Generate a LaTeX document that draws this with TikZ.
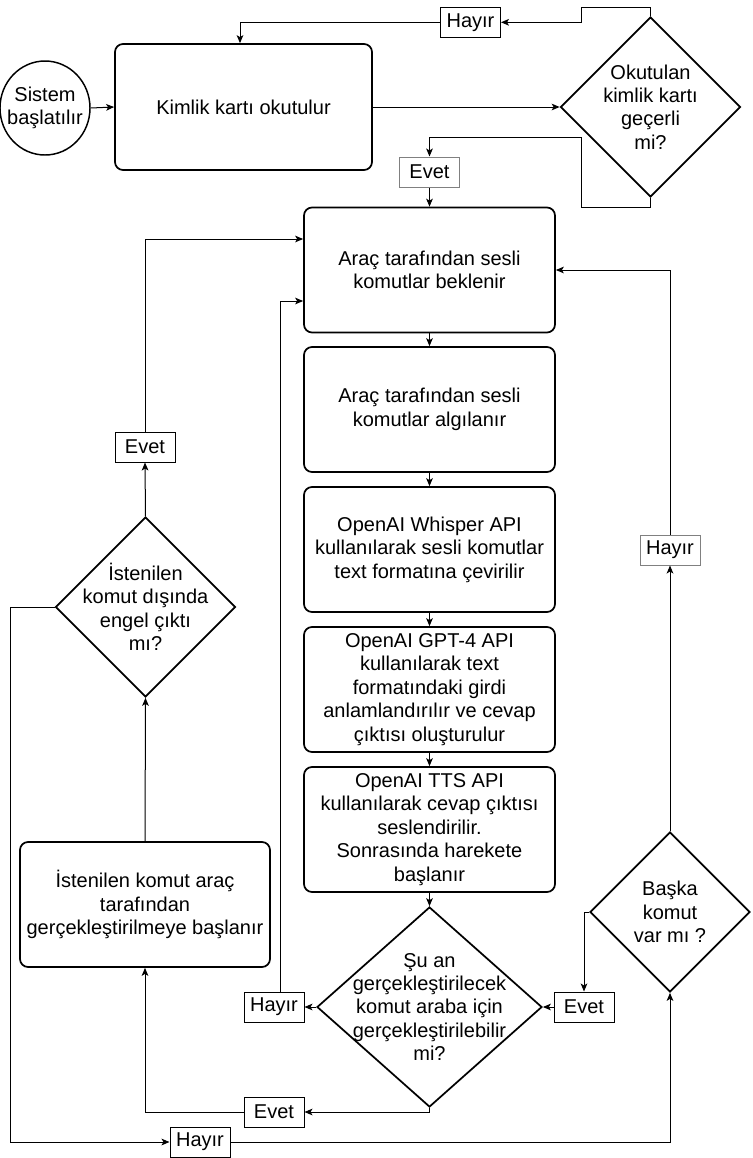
\documentclass[tikz,border=0pt]{standalone}
\usepackage{fontspec}
\setmainfont{Liberation Sans}
\usetikzlibrary{shapes.geometric,arrows.meta}
\begin{document}
\begin{tikzpicture}[x=0.75pt,y=-0.75pt,
		every node/.style={font=\fontsize{15}{17.6}\selectfont},
		proc/.style={draw,rounded corners=6pt,line width=1.3pt,align=center,inner sep=0pt,minimum width=188.25pt,minimum height=93.75pt},
		dec/.style={draw,diamond,line width=1.3pt,inner sep=0pt},
		lbl/.style={draw,line width=0.75pt,inner sep=0pt,minimum width=45pt,minimum height=22.5pt},
		arr/.style={-{Stealth[length=6pt,width=5pt,inset=1.5pt]},line width=0.75pt}]
	\useasboundingbox[fill=white] (0,0) rectangle (753,1158);

	% start and id card check
	\node[draw,ellipse,line width=1.1pt,inner sep=0pt,minimum width=67.5pt,minimum height=70.5pt,
		label={[align=center]center:Sistem\\başlatılır}] (start) at (45,108) {};
	\node[proc,minimum width=192.75pt,minimum height=94.5pt] (kimlik) at (243.5,107) {Kimlik kartı okutulur};
	\node[dec,minimum width=135pt,minimum height=135pt,
		label={[align=center]center:Okutulan\\kimlik kartı\\geçerli\\mi?}] (gecerli) at (650.5,107) {};
	\node[lbl] (hayir1) at (470.5,22.3) {Hayır};
	\node[lbl,draw=gray] (evet1) at (429.5,172) {Evet};

	% main column
	\node[proc] (bekle) at (429.5,270) {Araç tarafından sesli\\komutlar beklenir};
	\node[proc] (algi) at (429.5,409.5) {Araç tarafından sesli\\komutlar algılanır};
	\node[proc] (whisper) at (429.5,549.5) {OpenAI Whisper API\\kullanılarak sesli komutlar\\text formatına çevirilir};
	\node[proc] (gpt) at (429.5,689.5) {OpenAI GPT-4 API\\kullanılarak text\\formatındaki girdi\\anlamlandırılır ve cevap\\çıktısı oluşturulur};
	\node[proc] (tts) at (429.5,829.5) {OpenAI TTS API\\kullanılarak cevap çıktısı\\seslendirilir.\\Sonrasında harekete\\başlanır};
	\node[dec,minimum width=168.75pt,minimum height=150pt,
		label={[align=center]center:Şu an\\gerçekleştirilecek\\komut araba için\\gerçekleştirilebilir\\mi?}] (uygun) at (429.5,1007) {};

	% left side
	\node[proc,minimum width=187.5pt] (basla) at (145,904.5) {İstenilen komut araç\\tarafından\\gerçekleştirilmeye başlanır};
	\node[dec,minimum width=135pt,minimum height=135pt,
		label={[align=center]center:İstenilen\\komut dışında\\engel çıktı\\mı?}] (engel) at (145.5,607) {};
	\node[lbl] (evet2) at (145,447) {Evet};
	\node[lbl] (hayir3) at (274,1007) {Hayır};
	\node[lbl] (evet4) at (274,1112) {Evet};
	\node[lbl] (hayir4) at (200,1142) {Hayır};

	% right side
	\node[dec,minimum width=120pt,minimum height=120pt,
		label={[align=center]center:Başka\\komut\\var mı ?}] (baska) at (670,912) {};
	\node[lbl,draw=gray] (hayir2) at (670,550) {Hayır};
	\node[lbl] (evet3) at (584,1007) {Evet};

	% connectors
	\draw[arr] (start.east) -- (kimlik.west);
	\draw[arr] (kimlik.east) -- (gecerli.west);
	\draw[arr] (gecerli.north) |- (581,7.3) |- (hayir1.east);
	\draw[arr] (hayir1.west) -| (240,0 |- kimlik.north);
	\draw[arr] (gecerli.south) |- (581,207) -- (581,137.3) -| (evet1.north);
	\draw[arr] (evet1.south) -- (bekle.north);
	\draw[arr] (bekle.south) -- (algi.north);
	\draw[arr] (algi.south) -- (whisper.north);
	\draw[arr] (whisper.south) -- (gpt.north);
	\draw[arr] (gpt.south) -- (tts.north);
	\draw[arr] (tts.south) -- (uygun.north);
	\draw[arr] (uygun.west) -- (hayir3.east);
	\draw[arr] (280,0 |- hayir3.north) |- (bekle.west |- 0,301);
	\draw[arr] (evet3.west) -- (uygun.east);
	\draw[arr] (baska.west) -| (evet3.north);
	\draw[arr] (uygun.south) |- (evet4.east);
	\draw[arr] (evet4.west) -| (basla.south);
	\draw[arr] (basla.north) -- (engel.south);
	\draw[arr] (engel.north) -- (evet2.south);
	\draw[arr] (evet2.north) |- (bekle.west |- 0,239);
	\draw[arr] (engel.west) -- (10.6,607) |- (hayir4.west);
	\draw[arr] (hayir4.east) -| (baska.south);
	\draw[arr] (baska.north) -- (hayir2.south);
	\draw[arr] (hayir2.north) |- (bekle.east);
\end{tikzpicture}
\end{document}
